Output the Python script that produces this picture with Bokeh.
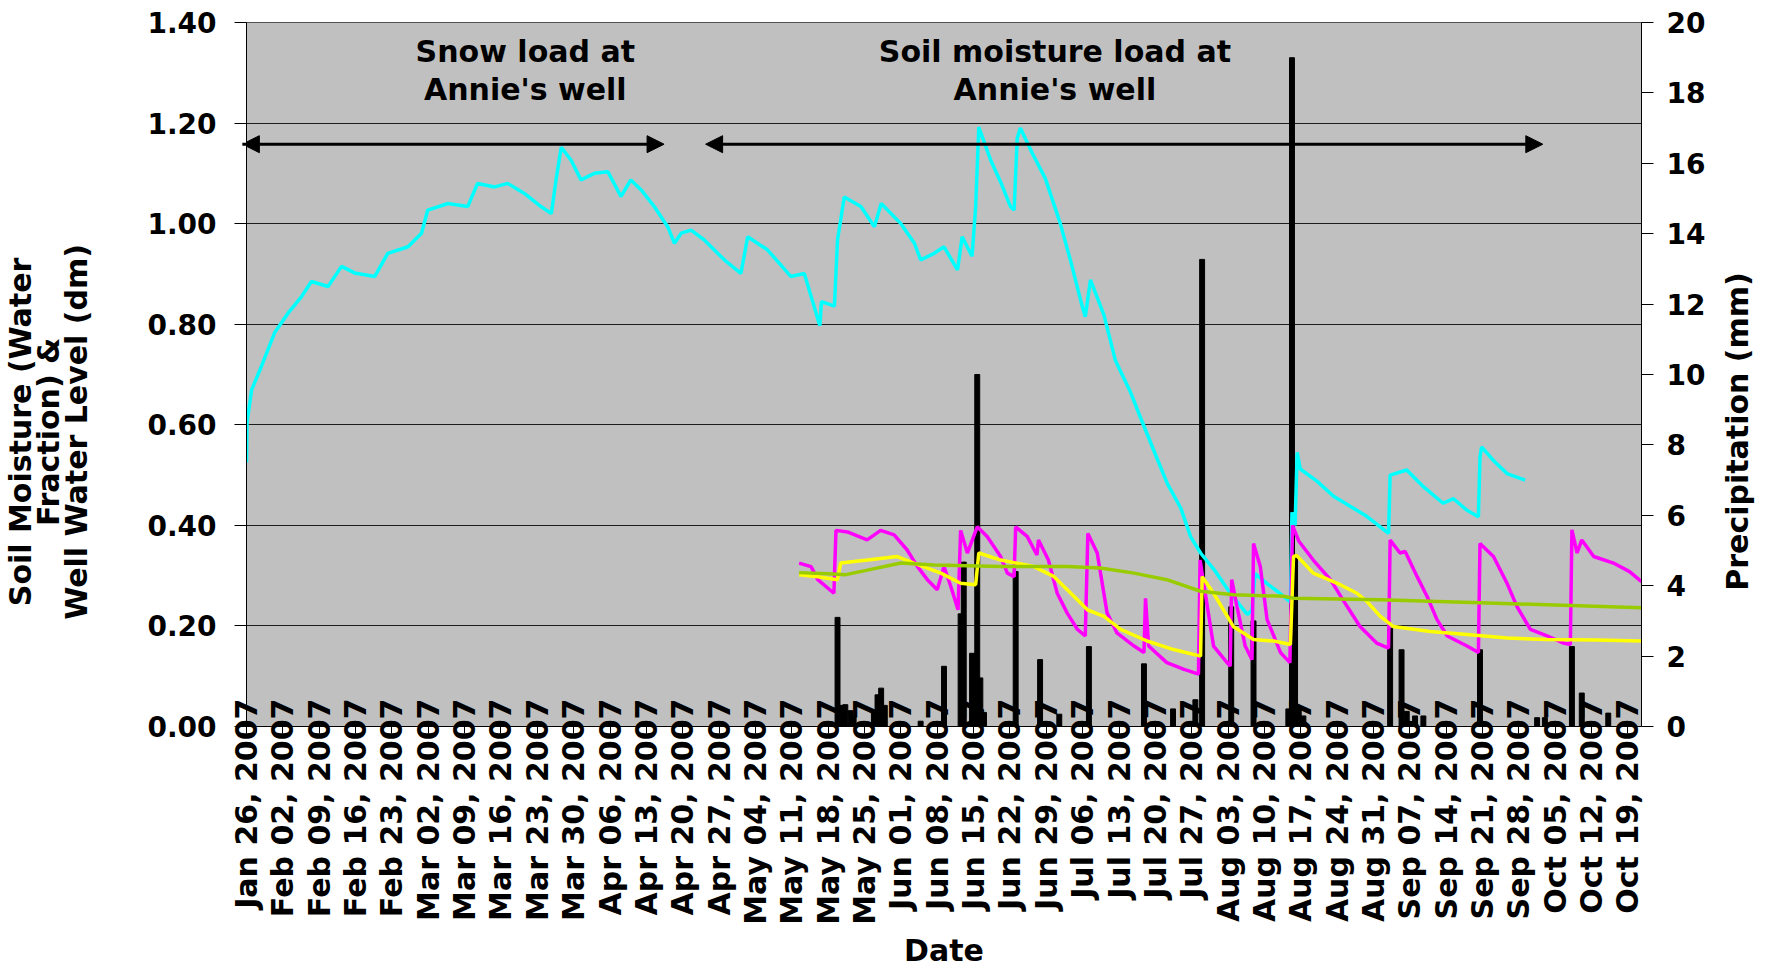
import math
import pandas as pd
from bokeh.plotting import figure
from bokeh.models import (Range1d, LinearAxis, FixedTicker, NumeralTickFormatter,
                          DatetimeTickFormatter, Label, Arrow, NormalHead, ColumnDataSource)
from bokeh.embed import file_html
from bokeh.resources import INLINE

# ---------------- data (days counted from 2007-01-26) ----------------
START = pd.Timestamp("2007-01-26")
X_END_DAYS = 268.6

tick_dates = pd.date_range("2007-01-26", "2007-10-19", freq="7D")
tick_labels = [d.strftime("%b %d, %Y") for d in tick_dates]
left_ticks = [0.0, 0.2, 0.4, 0.6, 0.8, 1.0, 1.2, 1.4]
right_ticks = [0, 2, 4, 6, 8, 10, 12, 14, 16, 18, 20]

left_title = ["Soil Moisture (Water", "Fraction) &", "Well Water Level (dm)"]
right_title = "Precipitation (mm)"
x_title = "Date"

well_day = [0.0, 0.1, 1.0, 2.9, 5.4, 8.0, 10.6, 12.5, 15.7, 18.3, 20.8, 24.7, 27.2, 31.1,
            33.7, 34.9, 38.8, 42.6, 44.5, 47.8, 50.3, 53.5, 56.7, 58.7, 59.6, 60.6, 62.5,
            64.4, 67.0, 69.6, 72.1, 74.0, 76.0, 78.5, 81.1, 82.4, 83.7, 85.6, 88.1, 92.0,
            95.2, 96.5, 100.3, 104.8, 107.4, 110.4, 110.7, 113.2, 113.8, 115.1, 118.3,
            120.9, 122.2, 126.0, 128.6, 129.8, 132.4, 134.3, 136.9, 137.8, 139.7, 140.4,
            141.0, 143.3, 145.2, 147.1, 147.8, 148.4, 149.0, 151.3, 153.8, 156.7, 158.7,
            160.8, 161.5, 162.5, 165.1, 167.3, 170.2, 172.3, 175.4, 177.3, 179.9, 181.8,
            183.7, 186.3, 189.5, 192.7, 193.6, 194.2, 196.5, 199.1, 201.0, 201.3, 201.9,
            202.3, 202.9, 206.1, 209.3, 212.5, 215.7, 218.3, 219.9, 220.2, 223.4, 226.6,
            230.4, 232.4, 235.0, 237.2, 237.5, 237.8, 240.1, 242.7, 246.2]
well_level = [0.525, 0.605, 0.67, 0.717, 0.783, 0.822, 0.855, 0.885, 0.875, 0.915, 0.902,
              0.895, 0.941, 0.954, 0.981, 1.027, 1.040, 1.034, 1.080, 1.073, 1.080, 1.060,
              1.034, 1.020, 1.087, 1.152, 1.126, 1.087, 1.100, 1.103, 1.054, 1.087, 1.067,
              1.034, 0.994, 0.961, 0.981, 0.987, 0.968, 0.928, 0.901, 0.974, 0.948, 0.895,
              0.901, 0.797, 0.845, 0.836, 0.968, 1.053, 1.034, 0.994, 1.040, 1.000, 0.961,
              0.928, 0.941, 0.954, 0.908, 0.974, 0.935, 1.034, 1.192, 1.126, 1.083, 1.034,
              1.027, 1.170, 1.190, 1.140, 1.090, 1.000, 0.925, 0.840, 0.815, 0.888, 0.818,
              0.728, 0.665, 0.610, 0.531, 0.483, 0.434, 0.377, 0.345, 0.312, 0.264, 0.223,
              0.231, 0.304, 0.284, 0.264, 0.247, 0.426, 0.400, 0.545, 0.512, 0.488, 0.458,
              0.438, 0.418, 0.397, 0.384, 0.500, 0.510, 0.477, 0.444, 0.453, 0.430, 0.417,
              0.536, 0.556, 0.529, 0.503, 0.490]

magenta_day = [106.4, 108.7, 110.0, 113.1, 113.5, 115.7, 119.5, 122.1, 124.7, 127.2, 129.2,
               131.1, 133.0, 134.3, 135.6, 137.0, 137.5, 138.8, 140.7, 142.6, 145.2, 146.5,
               147.8, 148.1, 150.3, 152.2, 152.5, 154.4, 156.1, 158.0, 160.0, 161.5, 162.0,
               163.8, 165.7, 167.6, 170.9, 172.8, 173.1, 173.7, 177.2, 180.4, 183.3, 183.6,
               184.6, 186.2, 188.8, 189.4, 189.7, 190.7, 192.3, 193.6, 193.9, 195.2, 196.5,
               199.1, 200.9, 201.4, 202.6, 205.4, 208.7, 211.9, 214.4, 217.6, 219.9, 220.2,
               222.1, 223.1, 225.4, 227.3, 229.2, 231.2, 235.0, 237.2, 237.5, 240.1, 242.7,
               244.6, 247.2, 250.4, 253.6, 254.9, 255.2, 256.2, 257.1, 259.4, 263.2, 266.3,
               268.6]
magenta_val = [0.325, 0.318, 0.292, 0.265, 0.390, 0.387, 0.371, 0.390, 0.381, 0.351, 0.318,
               0.292, 0.272, 0.318, 0.279, 0.232, 0.390, 0.345, 0.397, 0.378, 0.338, 0.305,
               0.298, 0.397, 0.378, 0.341, 0.371, 0.331, 0.265, 0.226, 0.193, 0.180, 0.384,
               0.345, 0.226, 0.186, 0.160, 0.147, 0.255, 0.160, 0.127, 0.114, 0.104, 0.331,
               0.265, 0.160, 0.127, 0.120, 0.292, 0.239, 0.160, 0.133, 0.364, 0.318, 0.213,
               0.147, 0.127, 0.400, 0.369, 0.331, 0.292, 0.239, 0.199, 0.166, 0.156, 0.371,
               0.345, 0.348, 0.298, 0.259, 0.213, 0.180, 0.160, 0.147, 0.364, 0.338, 0.285,
               0.239, 0.193, 0.180, 0.166, 0.163, 0.391, 0.345, 0.371, 0.338, 0.325, 0.308,
               0.288]

yellow_day = [106.4, 110.0, 113.8, 114.4, 119.6, 125.3, 128.5, 133.7, 137.5, 140.4, 141.0,
              145.2, 151.6, 155.5, 159.3, 161.9, 165.1, 168.3, 173.4, 178.5, 183.7, 184.0,
              186.2, 190.0, 193.9, 197.8, 201.0, 201.6, 202.2, 205.4, 210.6, 213.8, 215.7,
              218.3, 220.8, 227.9, 235.0, 242.7, 250.4, 260.0, 268.6]
yellow_val = [0.302, 0.298, 0.292, 0.325, 0.331, 0.338, 0.325, 0.305, 0.285, 0.282, 0.345,
              0.331, 0.318, 0.298, 0.259, 0.232, 0.219, 0.193, 0.170, 0.153, 0.140, 0.298,
              0.265, 0.199, 0.173, 0.170, 0.163, 0.338, 0.340, 0.305, 0.282, 0.265, 0.249,
              0.219, 0.199, 0.189, 0.183, 0.176, 0.173, 0.172, 0.170]

green_day = [106.4, 112.0, 115.4, 120.0, 126.0, 132.4, 145.2, 158.0, 164.4, 170.9, 177.2,
             183.7, 190.0, 199.7, 201.6, 218.3, 237.5, 250.4, 268.6]
green_val = [0.306, 0.304, 0.302, 0.312, 0.325, 0.321, 0.318, 0.318, 0.315, 0.305, 0.292,
             0.269, 0.262, 0.259, 0.255, 0.252, 0.246, 0.242, 0.236]

rain_day = [113.8, 114.6, 115.3, 116.3, 116.9, 120.8, 121.5, 122.2, 122.9, 129.8, 134.3,
            137.5, 138.1, 139.7, 140.7, 141.3, 142.0, 148.1, 152.8, 156.5, 162.2, 172.8,
            178.4, 182.7, 184.0, 189.6, 193.9, 200.6, 201.3, 201.9, 202.6, 203.5, 220.2,
            222.4, 223.4, 225.0, 226.6, 237.5, 248.5, 250.0, 255.2, 257.1, 262.2]
rain_mm = [3.10, 0.60, 0.62, 0.45, 0.30, 0.45, 0.90, 1.09, 0.60, 0.15, 1.71,
           3.20, 4.67, 2.08, 10.0, 1.38, 0.40, 4.40, 1.90, 0.35, 2.27, 1.78,
           0.50, 0.76, 13.27, 3.40, 3.00, 0.50, 19.0, 4.87, 0.50, 0.30, 2.79,
           2.18, 0.43, 0.30, 0.30, 2.18, 0.25, 0.25, 2.27, 0.95, 0.38]

# annotation spans (days from start) and height of the arrows (left axis units)
SNOW_SPAN = (-0.8, 80.4)
SOIL_SPAN = (88.4, 249.6)
ARROW_Y = 1.158

# ---------------- helpers ----------------
DAY_MS = 86400000.0
START_MS = (START - pd.Timestamp("1970-01-01")).total_seconds() * 1000.0
END_MS = START_MS + X_END_DAYS * DAY_MS


def to_dt(days):
    return START + pd.to_timedelta(days, unit="D")


def to_ms(day):
    return START_MS + day * DAY_MS


W, H = 1775, 970
FL, FR, FT, FB = 245, 134, 22, 242
FW, FH = W - FL - FR, H - FT - FB


def xpx(px):
    return START_MS + (px - FL) / FW * (END_MS - START_MS)


def ypx(py):
    return (H - FB - py) / FH * 1.4


FONT = "DejaVu Sans"
NB = "\u00a0"

p = figure(width=W, height=H, x_axis_type="datetime",
           x_range=Range1d(START_MS, END_MS), y_range=Range1d(0, 1.4),
           output_backend="svg", toolbar_location=None,
           min_border_left=FL, min_border_right=FR, min_border_top=FT, min_border_bottom=FB)
p.extra_y_ranges = {"precip": Range1d(0, 20)}
p.background_fill_color = "#C0C0C0"
p.border_fill_color = "white"
p.outline_line_color = "#505050"
p.outline_line_width = 1
p.xgrid.visible = False
p.ygrid.grid_line_color = "black"
p.ygrid.grid_line_width = 1
p.ygrid.grid_line_alpha = 0.85


def style_axis(ax, size, standoff, tick_out):
    ax.major_label_text_font = FONT
    ax.major_label_text_font_style = "bold"
    ax.major_label_text_font_size = size
    ax.major_label_text_color = "black"
    ax.major_label_standoff = standoff
    ax.major_tick_out = tick_out
    ax.major_tick_in = 0
    ax.minor_tick_out = 0
    ax.minor_tick_in = 0
    ax.axis_line_color = "black"
    ax.major_tick_line_color = "black"
    ax.axis_label_text_font = FONT
    ax.axis_label_text_font_style = "bold"
    ax.axis_label_text_font_size = "30px"
    ax.axis_label_text_color = "black"


# x axis
xa = p.xaxis[0]
tick_ms = [(d - pd.Timestamp("1970-01-01")).total_seconds() * 1000.0 for d in tick_dates]
xa.ticker = FixedTicker(ticks=tick_ms, minor_ticks=[])
fmt = "%b %d, %Y"
xa.formatter = DatetimeTickFormatter(days=fmt, months=fmt, years=fmt, hours=fmt,
                                     hourmin=fmt, minutes=fmt, minsec=fmt, seconds=fmt,
                                     milliseconds=fmt, microseconds=fmt)
xa.major_label_overrides = {t: l for t, l in zip(tick_ms, tick_labels)}
xa.major_label_orientation = math.pi / 2
style_axis(xa, "30px", -35, 7)
xa.axis_label = x_title
xa.axis_label_standoff = 5

# left y axis
ya = p.yaxis[0]
ya.ticker = FixedTicker(ticks=left_ticks, minor_ticks=[])
ya.formatter = NumeralTickFormatter(format="0.00")
style_axis(ya, "28px", 18, 12)
ya.axis_label = "\n".join(line + NB * 11 for line in left_title)
ya.axis_label_standoff = 50
ya.axis_label_text_line_height = 0.8

# right y axis
ra = LinearAxis(y_range_name="precip", ticker=FixedTicker(ticks=right_ticks, minor_ticks=[]))
style_axis(ra, "28px", 13, 12)
props = ra.properties()
if "axis_label_orientation" in props and "axis_label_align" in props:
    ra.axis_label_orientation = math.pi / 2
    ra.axis_label_align = "start"
    ra.axis_label = NB * 13 + right_title
else:
    ra.axis_label = right_title
ra.axis_label_standoff = 29
p.add_layout(ra, "right")

# precipitation bars
rain_src = ColumnDataSource(dict(x=to_dt(rain_day), mm=rain_mm))
p.vbar(x="x", top="mm", bottom=0, width=0.95 * DAY_MS, source=rain_src,
       y_range_name="precip", fill_color="black", line_color="black")

# lines
p.line(to_dt(well_day), well_level, line_color="#00FFFF", line_width=3.5)
p.line(to_dt(magenta_day), magenta_val, line_color="#FF00FF", line_width=3.5)
p.line(to_dt(yellow_day), yellow_val, line_color="#FFFF00", line_width=3.5)
p.line(to_dt(green_day), green_val, line_color="#99CC00", line_width=3.5)

# arrows
for a, b in (SNOW_SPAN, SOIL_SPAN):
    p.add_layout(Arrow(x_start=to_ms(a), y_start=ARROW_Y, x_end=to_ms(b), y_end=ARROW_Y,
                       line_width=3, line_color="black",
                       start=NormalHead(size=17, fill_color="black", line_color="black"),
                       end=NormalHead(size=17, fill_color="black", line_color="black")))


def add_text(txt, px, py, size="30px"):
    p.add_layout(Label(x=xpx(px), y=ypx(py), text=txt,
                       text_align="center", text_baseline="middle",
                       text_font=FONT, text_font_style="bold",
                       text_font_size=size, text_color="black"))


add_text("Snow load at", 524, 51)
add_text("Annie's well", 524, 89)
add_text("Soil moisture load at", 1054, 51)
add_text("Annie's well", 1054, 89)

open("out.html", "w").write(file_html(p, INLINE))
